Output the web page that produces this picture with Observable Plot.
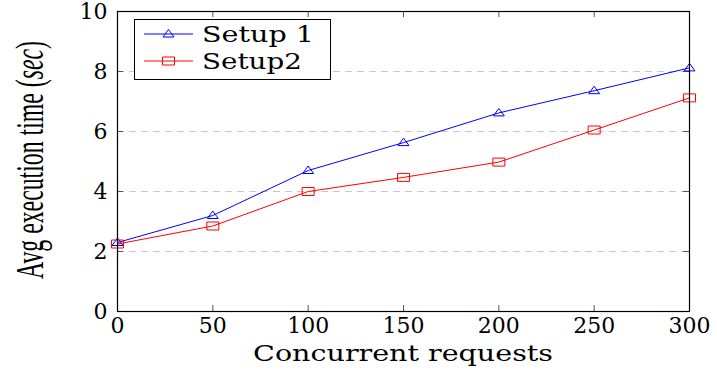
<!DOCTYPE html>
<html>
<head>
<meta charset="utf-8">
<script src="https://cdn.jsdelivr.net/npm/d3@7"></script>
<script src="https://cdn.jsdelivr.net/npm/@observablehq/plot@0.6"></script>
<style>
  html, body { margin: 0; padding: 0; background: #fff; }
</style>
</head>
<body>
<div id="chart"></div>
<script>
const requests = [0, 50, 100, 150, 200, 250, 300];
const setup1 = [2.3, 3.2, 4.7, 5.63, 6.62, 7.36, 8.12];
const setup2 = [2.25, 2.85, 4.0, 4.47, 4.98, 6.05, 7.12];
const seriesNames = ["Setup 1", "Setup2"];
const xTicks = [0, 50, 100, 150, 200, 250, 300];
const yTicks = [0, 2, 4, 6, 8, 10];
const gridTicks = [2, 4, 6, 8];
const xLabel = "Concurrent requests";

const blue = "#0000ff", red = "#ff0000";

const d1 = requests.map((x, i) => ({x, y: setup1[i]}));
const d2 = requests.map((x, i) => ({x, y: setup2[i]}));

const triangle = {
  draw(ctx) {
    ctx.moveTo(0, -4.5);
    ctx.lineTo(5.5, 3);
    ctx.lineTo(-5.5, 3);
    ctx.closePath();
  }
};
const square = {
  draw(ctx) {
    ctx.moveTo(-6, -4);
    ctx.lineTo(6, -4);
    ctx.lineTo(6, 4);
    ctx.lineTo(-6, 4);
    ctx.closePath();
  }
};

const W = 717, H = 377;
const mL = 117, mR = 28, mT = 11, mB = 66;

const chart = Plot.plot({
  width: W,
  height: H,
  marginLeft: mL,
  marginRight: mR,
  marginTop: mT,
  marginBottom: mB,
  style: {fontFamily: "DejaVu Serif", background: "#fff", overflow: "visible"},
  x: {domain: [0, 300]},
  y: {domain: [0, 10]},
  marks: [
    Plot.ruleY(gridTicks, {stroke: "#c8c8c8", strokeWidth: 1, strokeDasharray: "7,5"}),
    // inner tick marks
    Plot.ruleX(xTicks, {y1: 0, y2: 0.2, stroke: "#555"}),
    Plot.ruleX(xTicks, {y1: 10, y2: 9.8, stroke: "#555"}),
    Plot.ruleY(yTicks, {x1: 0, x2: 3.2, stroke: "#555"}),
    Plot.ruleY(yTicks, {x1: 300, x2: 296.8, stroke: "#555"}),
    Plot.axisX(xTicks, {tickSize: 0, tickPadding: 6, fontSize: 22, label: null, fill: "#000"}),
    Plot.axisY(yTicks, {tickSize: 0, tickPadding: 10, fontSize: 22, label: null, fill: "#000"}),
    Plot.line(d1, {x: "x", y: "y", stroke: blue, strokeWidth: 1}),
    Plot.line(d2, {x: "x", y: "y", stroke: red, strokeWidth: 1}),
    Plot.dot(d1, {x: "x", y: "y", stroke: blue, fill: "none", symbol: triangle, strokeWidth: 1}),
    Plot.dot(d2, {x: "x", y: "y", stroke: red, fill: "none", symbol: square, strokeWidth: 1}),
    Plot.frame({stroke: "#000", strokeWidth: 1.2})
  ]
});

document.getElementById("chart").appendChild(chart);

const svg = d3.select(chart);
const xs = chart.scale("x"), ys = chart.scale("y");
const cx = (xs.apply(0) + xs.apply(300)) / 2;
const cy = (ys.apply(0) + ys.apply(10)) / 2;

function fitScale(textSel, target) {
  const len = textSel.node().getComputedTextLength();
  return len > 0 ? target / len : 1;
}

// x axis label
const xl = svg.append("text")
  .attr("text-anchor", "middle")
  .attr("font-family", "DejaVu Serif")
  .attr("font-size", 22)
  .attr("fill", "#000")
  .text(xLabel);
const sxl = fitScale(xl, 300);
xl.attr("transform", `translate(${cx},361) scale(${sxl},1)`);

// y axis label
const yl = svg.append("text")
  .attr("text-anchor", "middle")
  .attr("font-family", "Liberation Serif")
  .attr("font-size", 40)
  .attr("fill", "#000");
yl.append("tspan").text("Avg execution time (");
yl.append("tspan").attr("font-style", "italic").text("sec");
yl.append("tspan").text(")");
const syl = fitScale(yl, 238);
yl.attr("transform", `translate(43,${cy - 1}) rotate(-90) scale(${syl},1)`);

// legend
const lg = svg.append("g");
lg.append("rect")
  .attr("x", 134.5).attr("y", 19.5).attr("width", 196).attr("height", 60)
  .attr("fill", "#fff").attr("stroke", "#000").attr("stroke-width", 1);
const rows = [
  {name: seriesNames[0], color: blue, sym: triangle, y: 34, len: 112},
  {name: seriesNames[1], color: red, sym: square, y: 61, len: 100}
];
rows.forEach(r => {
  lg.append("line")
    .attr("x1", 144).attr("x2", 193).attr("y1", r.y).attr("y2", r.y)
    .attr("stroke", r.color).attr("stroke-width", 1);
  lg.append("path")
    .attr("transform", `translate(168.5,${r.y})`)
    .attr("d", d3.symbol(r.sym)())
    .attr("fill", "none").attr("stroke", r.color).attr("stroke-width", 1);
  const t = lg.append("text")
    .attr("text-anchor", "start")
    .attr("font-family", "DejaVu Serif")
    .attr("font-size", 22)
    .attr("fill", "#000")
    .text(r.name);
  const s = fitScale(t, r.len);
  t.attr("transform", `translate(202,${r.y + 8}) scale(${s},1)`);
});
</script>
</body>
</html>
